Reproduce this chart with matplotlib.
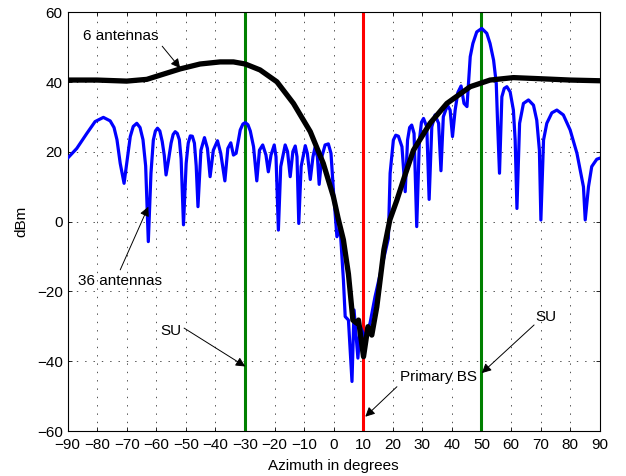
import numpy as np
import matplotlib
matplotlib.use("Agg")
import matplotlib.pyplot as plt

plt.rcParams['font.family'] = ['Liberation Sans', 'DejaVu Sans']
plt.rcParams['lines.scale_dashes'] = False

# 36 antennas pattern, azimuth in degrees / dBm
az36 = [-90.0, -86.9, -83.5, -80.7, -77.9, -75.6, -74.3, -73.3, -72.2, -70.9, -70.0, -68.8,
        -67.8, -66.6, -65.5, -64.5, -63.6, -62.7, -61.8, -61.0, -60.3, -59.6, -58.8, -58.0,
        -57.3, -56.7, -55.9, -55.0, -54.3, -53.6, -52.9, -52.2, -51.6, -50.8,
        -49.9, -49.2, -48.5, -47.8, -47.1, -46.5, -45.9, -44.9, -43.7, -42.7, -41.8, -40.7,
        -39.3, -38.2, -36.8, -35.8, -34.8, -33.9, -33.0, -31.6, -30.7, -29.9, -29.0, -28.2,
        -27.1, -26.0, -25.1, -24.0, -22.9, -22.1, -21.2, -20.1, -19.5, -18.7, -17.9, -16.4,
        -15.6, -14.7, -13.8, -13.0, -12.4, -11.8, -11.0, -9.6, -8.9, -7.9, -7.0, -6.3,
        -5.5, -4.9, -4.0, -2.9, -1.8, -0.9, -0.1, 1.1, 2.2, 3.3, 3.9, 5.0,
        6.2, 6.9, 8.2, 9.0, 10.5, 12.3, 14.0, 16.0, 18.5, 19.1, 20.2, 21.0,
        21.9, 23.1, 24.2, 25.0, 25.7, 26.4, 27.2, 28.1, 29.0, 29.7, 30.4, 31.5,
        32.3, 33.2, 34.3, 35.5, 36.3, 37.1, 38.5, 39.4, 40.2, 41.1, 42.0, 43.1,
        44.1, 45.1, 45.6, 46.2, 47.1, 48.4, 50.1, 51.8, 52.9, 54.1, 55.0, 55.5,
        56.1, 56.9, 57.7, 58.6, 59.7, 60.8, 61.4, 62.0, 62.9, 64.2, 65.9, 67.6,
        68.7, 69.6, 70.1, 71.0, 72.1, 73.8, 75.5, 77.7, 80.0, 82.3, 84.5, 85.1,
        86.2, 87.3, 89.0, 90.0]
dbm36 = [18.2, 21.0, 25.3, 28.7, 29.9, 28.9, 27.0, 23.5, 16.7, 11.0, 16.7, 24.4,
         27.3, 28.2, 27.0, 23.5, 16.0, -5.7, 13.9, 23.4, 26.0, 26.8, 26.0, 23.0,
         19.0, 13.4, 17.5, 22.5, 25.0, 25.8, 25.3, 23.5, 18.0, -0.9,
         16.7, 22.5, 24.6, 24.5, 22.5, 16.0, 4.3, 20.5, 24.1, 21.0, 12.9, 20.5,
         23.2, 19.6, 11.7, 21.0, 22.6, 19.1, 19.6, 26.3, 28.0, 28.4, 27.8, 26.0,
         21.5, 11.7, 20.5, 22.0, 19.1, 14.3, 19.1, 22.0, 18.6, -2.4, 15.8, 22.0,
         20.1, 12.9, 20.1, 21.7, 18.6, -0.5, 15.8, 21.8, 19.6, 12.1, 18.6, 21.3,
         18.6, 10.7, 18.6, 22.0, 22.3, 19.6, 9.1, -4.3, -2.0, -16.7, -27.2, -28.2,
         -45.8, -25.3, -39.1, -30.1, -33.0, -29.1, -21.5, -14.0, -4.8, 13.9, 23.4, 24.8,
         24.5, 21.5, 8.6, 23.4, 27.0, 27.7, 25.3, -1.4, 23.4, 28.5, 29.6, 27.2,
         6.4, 27.2, 30.6, 28.2, 14.6, 30.1, 33.4, 32.0, 24.4, 32.0, 37.0, 38.9,
         33.9, 33.0, 39.7, 47.3, 51.1, 54.4, 55.4, 54.0, 51.1, 46.3, 39.7, 27.2,
         13.9, 35.8, 38.2, 38.7, 37.2, 32.0, 23.4, 3.8, 28.2, 33.9, 34.9, 33.4,
         29.1, 20.5, 0.5, 23.4, 28.2, 31.2, 32.0, 30.6, 26.3, 19.6, 10.0, 0.5,
         10.0, 15.8, 17.9, 18.2]

# 6 antennas pattern
az6 = [-90, -80.1, -70.0, -63.2, -58.7, -51.9, -45.2, -38.4, -33.9, -29.9, -24.9, -19.2,
       -13.6, -7.9, -3.5, -0.1, 1.5, 3.3, 5.0, 5.8, 6.5, 7.8, 8.4, 10.1, 11.6, 12.9,
       14.6, 17.0, 19.0, 21.4, 24.0, 27.0, 32.6, 38.3, 46.2, 52.9, 60.8, 72.1, 80, 90]
dbm6 = [40.6, 40.6, 40.3, 40.8, 42.0, 43.8, 45.2, 45.8, 45.8, 45.2, 43.5, 40.1,
        33.9, 25.8, 16.7, 7.2, 1.0, -5.2, -15.0, -22.0, -28.2, -29.1, -28.2, -38.7, -30.1, -32.5,
        -24.4, -8.0, 0.5, 6.2, 13.0, 20.5, 28.2, 33.9, 38.7, 40.6, 41.3, 40.9, 40.6, 40.4]

su_az = [-30, 50]
bs_az = 10

fig = plt.figure(figsize=(6.26, 4.76), dpi=100)
ax = fig.add_axes([0.108, 0.0945, 0.85, 0.8795])

for a in su_az:
    ax.axvline(a, color=(0, 0.5, 0), lw=2.2, zorder=2)
ax.axvline(bs_az, color='r', lw=2.2, zorder=2)
ax.plot(az36, dbm36, color='b', lw=2.3, zorder=3)
ax.plot(az6, dbm6, color='k', lw=3.8, zorder=4)

ax.set_xlim(-90, 90)
ax.set_ylim(-60, 60)
ax.set_xticks(np.arange(-90, 91, 10))
ax.set_yticks(np.arange(-60, 61, 20))
ax.tick_params(direction='in', top=True, right=True, length=3, labelsize=11, width=0.6)
ax.tick_params(axis='x', pad=5)
ax.grid(True, color='0.2', linestyle=(0, (1, 5)), lw=0.6)
for s in ax.spines.values():
    s.set_linewidth(0.8)

ax.set_xlabel('Azimuth in degrees', fontsize=11, labelpad=5)
ax.set_ylabel('dBm', fontsize=11, labelpad=6)

ap = dict(arrowstyle='-|>', color='k', lw=0.7, mutation_scale=14, shrinkA=0, shrinkB=0)
ax.text(-72, 53.2, '6 antennas', ha='center', va='center', fontsize=11)
ax.annotate('', xy=(-51.9, 44.0), xytext=(-58, 50.3), arrowprops=ap)
ax.text(-72.2, -17.0, '36 antennas', ha='center', va='center', fontsize=11)
ax.annotate('', xy=(-62.7, 4.3), xytext=(-72.2, -13.8), arrowprops=ap)
ax.text(-55, -31.3, 'SU', ha='center', va='center', fontsize=11)
ax.annotate('', xy=(-29.9, -41.5), xytext=(-50.6, -30.5), arrowprops=ap)
ax.text(71.7, -27.2, 'SU', ha='center', va='center', fontsize=11)
ax.annotate('', xy=(50.1, -43.4), xytext=(67.8, -29.6), arrowprops=ap)
ax.text(35.5, -44.5, 'Primary BS', ha='center', va='center', fontsize=11)
ax.annotate('', xy=(10.7, -55.9), xytext=(21.4, -47.3), arrowprops=ap)

fig.savefig('out.png', dpi=100)
